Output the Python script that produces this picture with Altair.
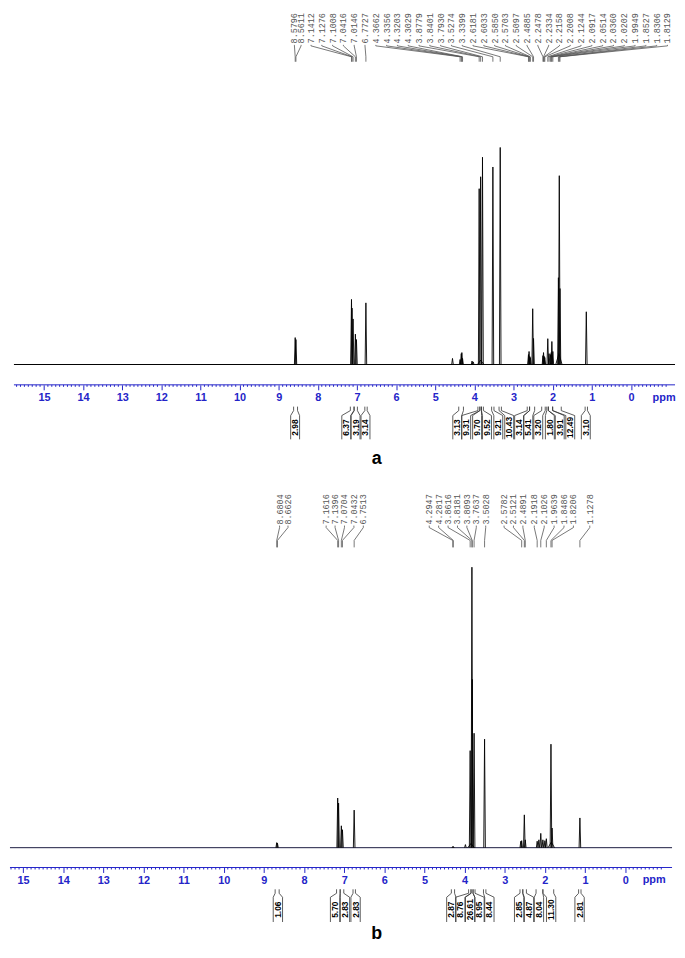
import altair as alt
import pandas as pd

# ---------------- data ----------------
# Panel a: 1H NMR peaks (ppm, relative intensity, % of tallest line)
A_PEAK_PPM = [8.5796, 8.5611, 7.1412, 7.1276, 7.1008, 7.0416, 7.0146, 6.7727,
              4.56, 4.3662, 4.3356, 4.3203, 4.3029, 4.06, 4.03,
              3.8779, 3.8401, 3.7930, 3.5274, 3.3399,
              2.6181, 2.6033, 2.5850, 2.5703, 2.5097, 2.4885,
              2.2478, 2.2334, 2.2158, 2.2008, 2.1244, 2.0917, 2.0514, 2.0360,
              2.0202, 1.9949, 1.8527, 1.8306, 1.8129, 1.1400]
A_PEAK_INT = [12.4, 11.5, 30.0, 26.0, 21.0, 14.0, 11.5, 28.4,
              2.8, 2.3, 5.0, 5.5, 2.8, 1.6, 1.2,
              81.0, 86.5, 95.5, 91.0, 100.0,
              4.6, 6.0, 3.7, 3.2, 25.7, 12.0,
              4.1, 5.5, 3.7, 3.2, 11.9, 5.0, 4.6, 5.5,
              10.6, 6.0, 40.0, 87.0, 35.0, 24.3]
A_BROAD_PPM = [1.84, 3.84]
A_BROAD_INT = [5.0, 2.0]
A_LABELS = ["8.5796", "8.5611", "7.1412", "7.1276", "7.1008", "7.0416", "7.0146",
            "6.7727", "4.3662", "4.3356", "4.3203", "4.3029", "3.8779", "3.8401",
            "3.7930", "3.5274", "3.3399", "2.6181", "2.6033", "2.5850", "2.5703",
            "2.5097", "2.4885", "2.2478", "2.2334", "2.2158", "2.2008", "2.1244",
            "2.0917", "2.0514", "2.0360", "2.0202", "1.9949", "1.8527", "1.8306",
            "1.8129"]
A_INT_VAL = ["2.98", "6.37", "3.19", "3.14", "3.13", "9.31", "9.70", "9.52", "9.21",
             "10.43", "3.14", "5.41", "3.20", "1.80", "3.91", "12.49", "3.10"]
A_INT_FROM = [8.62, 7.17, 7.07, 6.80, 4.40, 3.91, 3.86, 3.82, 3.56, 3.37, 2.65, 2.59,
              2.28, 2.15, 2.11, 2.00, 1.17]
A_INT_TO = [8.52, 7.08, 6.99, 6.74, 4.28, 3.86, 3.82, 3.77, 3.50, 3.31, 2.59, 2.46,
            2.19, 2.11, 2.00, 1.78, 1.11]

# Panel b
B_PEAK_PPM = [8.6804, 8.6626, 7.1616, 7.1396, 7.0704, 7.0432, 6.7513, 4.2947, 4.2817,
              3.98, 3.8616, 3.8181, 3.8093, 3.7637, 3.5028, 2.60, 2.5782, 2.5121,
              2.4891, 2.1918, 2.15, 2.1026, 2.05, 2.00, 1.9639, 1.8486, 1.8206, 1.1278]
B_PEAK_INT = [1.8, 1.6, 17.7, 15.9, 7.8, 6.4, 13.4, 0.4, 0.4,
              1.1, 34.6, 100.0, 60.0, 40.8, 38.7, 2.3, 2.5, 11.7,
              2.8, 2.3, 2.8, 5.1, 2.8, 2.5, 3.2, 36.9, 7.0, 10.6]
B_BROAD_PPM = [1.84, 3.84]
B_BROAD_INT = [2.0, 1.5]
B_LABELS = ["8.6804", "8.6626", "7.1616", "7.1396", "7.0704", "7.0432", "6.7513",
            "4.2947", "4.2817", "3.8616", "3.8181", "3.8093", "3.7637", "3.5028",
            "2.5782", "2.5121", "2.4891", "2.1918", "2.1026", "1.9639", "1.8486",
            "1.8206", "1.1278"]
B_INT_VAL = ["1.06", "5.70", "2.83", "2.83", "2.87", "8.76", "26.61", "8.95", "8.44",
             "2.85", "4.87", "8.04", "11.30", "2.81"]
B_INT_FROM = [8.72, 7.19, 7.10, 6.78, 4.33, 3.90, 3.84, 3.79, 3.53, 2.62, 2.55, 2.22,
              2.05, 1.16]
B_INT_TO = [8.62, 7.10, 7.01, 6.72, 4.25, 3.84, 3.79, 3.74, 3.47, 2.55, 2.46, 2.05,
            1.78, 1.10]

AXIS_VALUES = list(range(15, -1, -1))

# ---------------- layout / style ----------------
BLUE = "#2424c8"
SANS = "Liberation Sans"
MONO = "Liberation Mono"
W = 671

A_LAYOUT = dict(zero_px=634.5, px_per_ppm=39.48, top=8, axis_y=382, base_y=361.5,
                full_px=219, line_from=12, line_to=679, axis_from=12, axis_to=679,
                lab_px=[295, 301.7] + [311.7 + 10.9 * i for i in range(34)],
                lab_text_bottom=37.5, lab_y=[39, 40, 51, 56],
                int_px=[295.7, 347.3, 356.7, 366.7, 459.3, 468.3, 479.3, 489.3, 500.7,
                        511.7, 521.7, 531, 541, 552.7, 562.7, 573.3, 589],
                int_y=[404, 408, 413, 437], int_half=4.5,
                ppm_px=668, ticklab_y=395, letter="a", letter_px=378, letter_y=462,
                line_color="#000000", hw=0.02)
B_LAYOUT = dict(zero_px=628.7, px_per_ppm=40.5, top=470, axis_y=869, base_y=849,
                full_px=283, line_from=8, line_to=676, axis_from=8, axis_to=676,
                lab_px=[280, 288.5, 327, 336, 345.5, 355, 364.5, 431, 440.5, 450, 459.5,
                        469, 478.5, 488, 506.5, 516, 525.5, 537, 547, 557, 567, 576.5, 593],
                lab_text_bottom=523, lab_y=[524, 526, 539, 546],
                int_px=[278.3, 336, 346, 356.7, 453.3, 462.3, 472.3, 481.7, 491.7,
                        521.7, 531.7, 541.7, 554, 582.7],
                int_y=[891, 895, 899, 924], int_half=4.7,
                ppm_px=658, ticklab_y=882, letter="b", letter_px=378, letter_y=941,
                line_color="#1a1a40", hw=0.02)


def panel(cfg, pk_ppm, pk_int, br_ppm, br_int, labels, iv, ifrom, ito):
    top = cfg["top"]
    H = cfg["axis_y"] - top
    z, k = cfg["zero_px"], cfg["px_per_ppm"]

    def ppm_of(px):
        return (z - px) / k

    xs = alt.Scale(domain=[ppm_of(8), ppm_of(8 + W)], nice=False, zero=False)
    ax = alt.Axis(values=AXIS_VALUES, format="d", domain=False, grid=False,
                  tickColor=BLUE, tickSize=5, tickWidth=1, labelColor=BLUE,
                  labelFont=SANS, labelFontSize=11, labelFontWeight="bold",
                  labelPadding=2, title=None, labelFlush=False, labelOverlap=False)

    def X(f):
        return alt.X(f, type="quantitative", scale=xs, axis=ax)

    base = cfg["base_y"] - top
    u = cfg["full_px"] / 100.0
    ys_spec = alt.Scale(domain=[-(H - base) / u, base / u], nice=False, zero=False)
    ys_pix = alt.Scale(domain=[H, 0], nice=False, zero=False)

    def YS(f):
        return alt.Y(f, type="quantitative", scale=ys_spec, axis=None)

    def YP(f):
        return alt.Y(f, type="quantitative", scale=ys_pix, axis=None)

    layers = []
    # spectrum baseline
    bl = pd.DataFrame({"ppm": [ppm_of(cfg["line_from"]), ppm_of(cfg["line_to"])],
                       "v": [0.0, 0.0]})
    layers.append(alt.Chart(bl).mark_line(color=cfg["line_color"], strokeWidth=1)
                  .encode(x=X("ppm"), y=YS("v")))
    # peaks
    rows = []
    hw = cfg["hw"]
    for i, (p, h) in enumerate(zip(pk_ppm, pk_int)):
        rows += [dict(pid=i, ppm=p + hw, v=0.0), dict(pid=i, ppm=p, v=h),
                 dict(pid=i, ppm=p - hw, v=0.0)]
    for j, (p, h) in enumerate(zip(br_ppm, br_int)):
        rows += [dict(pid=1000 + j, ppm=p + 0.08, v=0.0), dict(pid=1000 + j, ppm=p, v=h),
                 dict(pid=1000 + j, ppm=p - 0.08, v=0.0)]
    pk = pd.DataFrame(rows)
    layers.append(alt.Chart(pk).mark_line(color="#000000", strokeWidth=0.9)
                  .encode(x=X("ppm"), y=YS("v"), detail="pid:N"))
    # axis line
    al = pd.DataFrame({"ppm": [ppm_of(cfg["axis_from"]), ppm_of(cfg["axis_to"])],
                       "py": [H, H]})
    layers.append(alt.Chart(al).mark_line(color=BLUE, strokeWidth=1)
                  .encode(x=X("ppm"), y=YP("py")))
    # minor ticks every 0.1 ppm
    lo, hi = ppm_of(cfg["axis_to"]), ppm_of(cfg["axis_from"])
    mt = [t / 10 for t in range(int(lo * 10) + 1, int(hi * 10) + 1) if t % 10 != 0]
    mdf = pd.DataFrame({"ppm": mt, "py0": [H] * len(mt), "py1": [H + 2] * len(mt)})
    layers.append(alt.Chart(mdf).mark_rule(color=BLUE, strokeWidth=1)
                  .encode(x=X("ppm"), y=YP("py0"), y2="py1"))
    # peak labels
    lx = [ppm_of(p) for p in cfg["lab_px"]]
    ldf = pd.DataFrame({"lx": lx, "txt": labels})
    layers.append(alt.Chart(ldf).mark_text(angle=270, align="left", baseline="middle",
                                           font=MONO, fontSize=8.5, color="#555555")
                  .encode(x=X("lx"), y=alt.value(cfg["lab_text_bottom"] - top), text="txt"))
    y0, y1, y2, y3 = [v - top for v in cfg["lab_y"]]
    crow = []
    for i, (x_, s) in enumerate(zip(lx, labels)):
        p = float(s)
        crow += [dict(cid=i, o=0, ppm=x_, py=y0), dict(cid=i, o=1, ppm=x_, py=y1),
                 dict(cid=i, o=2, ppm=p, py=y2), dict(cid=i, o=3, ppm=p, py=y3)]
    cdf = pd.DataFrame(crow)
    layers.append(alt.Chart(cdf).mark_line(color="#555555", strokeWidth=0.8)
                  .encode(x=X("ppm"), y=YP("py"), detail="cid:N", order="o:Q"))
    # integrals
    iy0, iy1, iy2, iy3 = [v - top for v in cfg["int_y"]]
    hwb = cfg["int_half"]
    irow = []
    for i, (bx, a, b) in enumerate(zip(cfg["int_px"], ifrom, ito)):
        bl_ = ppm_of(bx - hwb)
        br_ = ppm_of(bx + hwb)
        irow += [dict(iid=2 * i, o=0, ppm=a, py=iy0), dict(iid=2 * i, o=1, ppm=a, py=iy1),
                 dict(iid=2 * i, o=2, ppm=bl_, py=iy2), dict(iid=2 * i, o=3, ppm=bl_, py=iy3)]
        irow += [dict(iid=2 * i + 1, o=0, ppm=b, py=iy0), dict(iid=2 * i + 1, o=1, ppm=b, py=iy1),
                 dict(iid=2 * i + 1, o=2, ppm=br_, py=iy2), dict(iid=2 * i + 1, o=3, ppm=br_, py=iy3)]
    idf = pd.DataFrame(irow)
    layers.append(alt.Chart(idf).mark_line(color="#333333", strokeWidth=0.8)
                  .encode(x=X("ppm"), y=YP("py"), detail="iid:N", order="o:Q"))
    itx = pd.DataFrame({"ppm": [ppm_of(p) for p in cfg["int_px"]], "txt": iv})
    layers.append(alt.Chart(itx).mark_text(angle=270, align="center", baseline="middle",
                                           font=SANS, fontSize=8.5, fontWeight="bold",
                                           color="#000000")
                  .encode(x=X("ppm"), y=alt.value((iy2 + iy3) / 2), text="txt"))
    # "ppm" unit label
    udf = pd.DataFrame({"ppm": [ppm_of(cfg["ppm_px"])], "txt": ["ppm"]})
    layers.append(alt.Chart(udf).mark_text(align="center", baseline="middle", font=SANS,
                                           fontSize=11, fontWeight="bold", color=BLUE)
                  .encode(x=X("ppm"), y=alt.value(cfg["ticklab_y"] - top), text="txt"))
    # panel letter
    pdf = pd.DataFrame({"ppm": [ppm_of(cfg["letter_px"])], "txt": [cfg["letter"]]})
    layers.append(alt.Chart(pdf).mark_text(align="center", baseline="alphabetic", font=SANS,
                                           fontSize=18, fontWeight="bold", color="#000000")
                  .encode(x=X("ppm"), y=alt.value(cfg["letter_y"] - top), text="txt"))

    return alt.layer(*layers).resolve_scale(y="independent").properties(width=W, height=H)


pa = panel(A_LAYOUT, A_PEAK_PPM, A_PEAK_INT, A_BROAD_PPM, A_BROAD_INT, A_LABELS,
           A_INT_VAL, A_INT_FROM, A_INT_TO)
pb = panel(B_LAYOUT, B_PEAK_PPM, B_PEAK_INT, B_BROAD_PPM, B_BROAD_INT, B_LABELS,
           B_INT_VAL, B_INT_FROM, B_INT_TO)

spacing = B_LAYOUT["top"] - A_LAYOUT["axis_y"]
chart = (alt.vconcat(pa, pb, spacing=spacing, bounds="flush")
         .resolve_scale(x="independent", y="independent")
         .properties(padding=0, background="white")
         .configure_view(stroke=None))

chart.save("out.html", embed_options={"renderer": "svg", "actions": False})
